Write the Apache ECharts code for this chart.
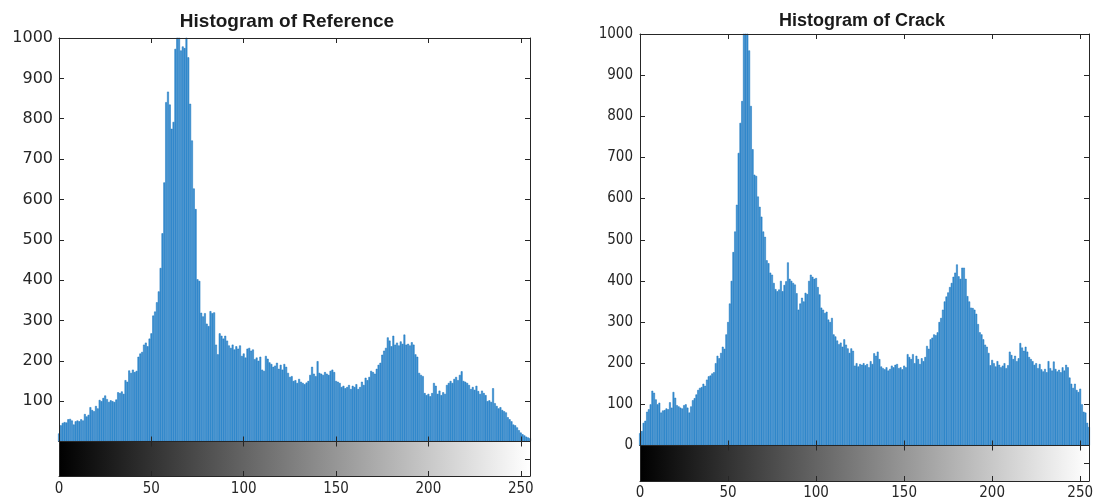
<!DOCTYPE html>
<html><head><meta charset="utf-8">
<script src="https://cdn.jsdelivr.net/npm/echarts@6/dist/echarts.min.js"></script>
<style>html,body{margin:0;padding:0;background:#fff}#c{width:1097px;height:502px}</style>
</head><body><div id="c"></div>
<script>
const titleLeft = 'Histogram of Reference';
const titleRight = 'Histogram of Crack';

// counts per gray level 0..255
const referenceCounts = [
 20,40,46,48,47,55,56,52,42,50, 52,50,55,52,68,62,66,85,78,75,
 88,82,103,100,108,114,105,98,102,100, 98,104,122,120,124,118,152,148,176,170,
 178,172,175,210,218,222,240,245,236,255, 268,312,322,345,372,430,516,642,841,867,
 835,775,792,973,1020,1015,969,979,975,1010, 952,837,746,627,576,402,398,319,310,318,
 292,286,323,318,320,240,216,268,262,255, 262,250,238,232,240,228,236,230,238,212,
 218,208,230,232,225,228,204,208,200,210, 178,175,212,205,196,192,185,188,195,180,
 190,178,192,185,170,160,162,150,152,145, 155,148,145,142,146,150,165,185,168,162,
 199,170,168,165,172,168,165,175,178,172, 150,148,145,135,138,132,135,140,130,138,
 135,142,130,135,148,140,158,152,160,175, 172,168,180,190,195,215,225,232,258,250,
 236,262,240,245,238,248,242,265,240,242, 238,246,240,216,210,170,165,162,120,115,
 118,112,120,145,138,118,126,115,122,118, 140,145,150,145,155,160,152,165,174,150,
 148,145,140,130,135,128,138,125,118,126, 120,115,100,102,98,132,95,88,82,85,
 78,75,72,60,55,50,42,40,35,28, 22,18,15,12,10,8
];
const crackCounts = [
 30,35,55,60,82,88,100,133,128,112, 100,104,80,85,86,90,88,105,92,130,
 116,98,95,92,90,98,100,92,80,95, 110,115,124,135,140,142,150,145,160,168,
 170,175,178,200,218,212,225,240,235,270, 300,345,400,470,520,585,711,784,837,1010,
 1020,1005,960,825,720,658,655,605,580,556, 520,507,450,443,420,415,395,380,375,379,
 400,375,390,399,445,405,400,395,391,370, 330,345,359,350,371,368,400,415,410,405,
 407,385,367,335,330,322,325,306,300,310, 270,265,255,246,250,240,258,245,236,225,
 236,230,194,200,192,198,196,200,195,198, 190,205,198,224,218,228,210,192,188,185,
 190,182,186,194,190,196,198,188,190,185, 194,190,222,215,210,222,200,218,210,198,
 212,205,215,242,235,258,262,270,268,275, 300,310,330,350,362,372,385,395,410,420,
 440,411,405,432,432,405,363,350,335,334, 330,320,295,275,270,258,245,240,225,195,
 208,200,192,205,196,190,194,200,188,195, 228,220,210,218,205,212,249,238,230,240,
 228,215,210,205,196,200,188,198,185,180, 186,178,205,188,182,204,186,180,184,178,
 190,182,196,190,165,150,140,150,135,130, 138,100,82,80,55,45
];
const xTickValues = [0, 50, 100, 150, 200, 250];
const grayRange = [0, 255];
const yMax = 1000;

const AX = '#262626';
const labelFontX = {fontFamily: "'DejaVu Sans Condensed','Liberation Sans',sans-serif", fontSize: 15, color: AX};

function buildChart(o) {
  const gMain = o.gi, gBar = o.gi + 1;
  const grids = [
    {left: o.left, top: o.top, width: o.width, height: o.mainH},
    {left: o.left, top: o.top + o.mainH, width: o.width, height: o.barH}
  ];
  const tick = {show: true, inside: true, length: 5, lineStyle: {color: AX, width: 1}};
  const line = {show: true, onZero: false, lineStyle: {color: AX, width: 1}};
  const xAxes = [
    {type: 'value', gridIndex: gMain, min: grayRange[0], max: grayRange[1], interval: 50, z: 10,
     axisLine: line, axisTick: tick, axisLabel: {show: false}, splitLine: {show: false}},
    {type: 'value', gridIndex: gMain, position: 'top', min: grayRange[0], max: grayRange[1], interval: 50, z: 10,
     axisLine: line, axisTick: tick, axisLabel: {show: false}, splitLine: {show: false}},
    {type: 'value', gridIndex: gBar, min: grayRange[0], max: grayRange[1], interval: 50, z: 10,
     axisLine: line, axisTick: tick, splitLine: {show: false},
     axisLabel: Object.assign({margin: o.xMargin, showMaxLabel: false,
       formatter: v => xTickValues.includes(v) ? String(v) : ''}, o.xLabelFont)},
    {type: 'value', gridIndex: gBar, position: 'top', min: grayRange[0], max: grayRange[1], interval: 50, z: 10,
     axisLine: line, axisTick: tick, axisLabel: {show: false}, splitLine: {show: false}}
  ];
  const yAxes = [
    {type: 'value', gridIndex: gMain, min: 0, max: yMax, interval: 100, z: 10,
     axisLine: line, axisTick: tick, splitLine: {show: false},
     axisLabel: Object.assign({margin: o.yMargin,
       formatter: v => (v === 0 && !o.showZero) ? '' : String(v)}, o.yLabelFont)},
    {type: 'value', gridIndex: gMain, position: 'right', min: 0, max: yMax, interval: 100, z: 10,
     axisLine: line, axisTick: tick, axisLabel: {show: false}, splitLine: {show: false}},
    {type: 'value', gridIndex: gBar, min: 0, max: 2, interval: 1, z: 10,
     axisLine: line, axisTick: {show: false}, axisLabel: {show: false}, splitLine: {show: false}},
    {type: 'value', gridIndex: gBar, position: 'right', min: 0, max: 2, interval: 1, z: 10,
     axisLine: line, axisTick: tick, axisLabel: {show: false}, splitLine: {show: false}}
  ];
  const series = [
    {type: 'bar', xAxisIndex: o.xi, yAxisIndex: o.yi, barCategoryGap: '0%', barWidth: o.barW,
     data: o.counts.map((v, i) => [i, v]), clip: true, large: false,
     itemStyle: {color: '#3f93d3', borderColor: '#1673bd', borderWidth: 0.5}},
    {type: 'custom', xAxisIndex: o.xi + 2, yAxisIndex: o.yi + 2, data: [grayRange],
     renderItem: (params, api) => {
       const p0 = api.coord([api.value(0), 2]);
       const p1 = api.coord([api.value(1), 0]);
       return {type: 'rect', shape: {x: p0[0], y: p0[1], width: p1[0] - p0[0], height: p1[1] - p0[1]},
         style: {fill: new echarts.graphic.LinearGradient(0, 0, 1, 0, [
           {offset: 0, color: '#000000'}, {offset: 1, color: '#ffffff'}])}};
     }}
  ];
  return {grids, xAxes, yAxes, series};
}

const A = buildChart({gi: 0, xi: 0, yi: 0, left: 59, top: 38, width: 471, mainH: 403.5, barH: 34.5,
  counts: referenceCounts, barW: 1.85, showZero: false, xMargin: 6, yMargin: 6,
  xLabelFont: labelFontX,
  yLabelFont: {fontFamily: "'DejaVu Sans',sans-serif", fontSize: 16, color: AX}});
const B = buildChart({gi: 2, xi: 4, yi: 4, left: 640, top: 34, width: 449, mainH: 411.5, barH: 35.5,
  counts: crackCounts, barW: 1.76, showZero: true, xMargin: 5, yMargin: 7,
  xLabelFont: labelFontX,
  yLabelFont: {fontFamily: "'DejaVu Sans Condensed','Liberation Sans',sans-serif", fontSize: 15, color: AX}});

const titleStyle = {fontFamily: "'Liberation Sans',Arial,sans-serif", fontWeight: 'bold', color: '#1a1a1a'};
const chart = echarts.init(document.getElementById('c'), null, {renderer: 'canvas'});
chart.setOption({
  animation: false,
  backgroundColor: '#ffffff',
  title: [
    {text: titleLeft, left: 282, top: 7, textAlign: 'center', textStyle: Object.assign({fontSize: 19}, titleStyle)},
    {text: titleRight, left: 857, top: 7, textAlign: 'center', textStyle: Object.assign({fontSize: 18}, titleStyle)}
  ],
  grid: A.grids.concat(B.grids),
  xAxis: A.xAxes.concat(B.xAxes),
  yAxis: A.yAxes.concat(B.yAxes),
  series: A.series.concat(B.series)
});
</script></body></html>
